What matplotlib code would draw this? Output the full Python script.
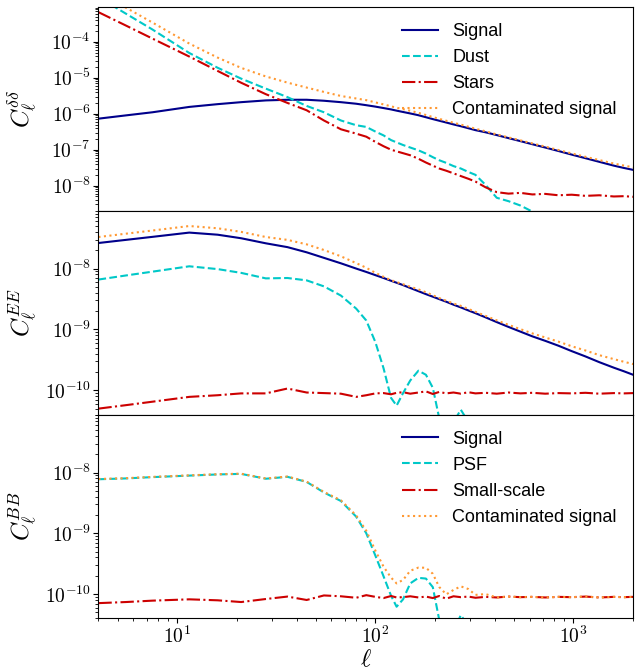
import matplotlib
matplotlib.use('Agg')
import matplotlib.pyplot as plt
from matplotlib.ticker import FuncFormatter, NullFormatter
import math

plt.rcParams['mathtext.fontset'] = 'cm'
plt.rcParams['font.family'] = ['Liberation Sans', 'DejaVu Sans']

# multipole grid
ell = [4, 5.5, 7.5, 11.5, 16, 21, 28, 36, 45, 55, 67, 80, 90, 100, 110, 120, 128,
       138, 150, 165, 180, 195, 210, 228, 248, 270, 295, 320, 360, 410, 470, 540,
       620, 720, 840, 980, 1150, 1350, 1600, 1800, 2000]

# ---- panel 1: delta-delta ----
signal_dd = [7.3e-7, 9.0e-7, 1.1e-6, 1.55e-6, 1.85e-6, 2.1e-6, 2.35e-6, 2.45e-6, 2.45e-6,
             2.3e-6, 2.1e-6, 1.9e-6, 1.73e-6, 1.58e-6, 1.44e-6, 1.32e-6, 1.22e-6, 1.12e-6,
             1.02e-6, 9.1e-7, 8.0e-7, 7.1e-7, 6.4e-7, 5.7e-7, 5.05e-7, 4.5e-7, 3.95e-7,
             3.5e-7, 3.05e-7, 2.55e-7, 2.1e-7, 1.73e-7, 1.42e-7, 1.15e-7, 9.2e-8, 7.3e-8,
             5.8e-8, 4.6e-8, 3.6e-8, 3.1e-8, 2.75e-8]
dust_dd = [1.75e-3, 6.1e-4, 2.2e-4, 4.9e-5, 1.9e-5, 9.5e-6, 5.0e-6, 2.9e-6, 1.65e-6,
           1.1e-6, 6.5e-7, 4.8e-7, 4.3e-7, 3.2e-7, 2.5e-7, 1.85e-7, 1.6e-7, 1.35e-7,
           1.15e-7, 9.6e-8, 7.8e-8, 6.2e-8, 5.1e-8, 4.3e-8, 3.5e-8, 3.0e-8, 2.4e-8,
           2.0e-8, 1.05e-8, 4.6e-9, 3.7e-9, 2.8e-9, 1.9e-9, 1.1e-9, 6e-10, 3.5e-10,
           2e-10, 1.2e-10, 7e-11, 5e-11, 4e-11]
stars_dd = [6.7e-4, 2.85e-4, 1.23e-4, 3.9e-5, 1.55e-5, 7.3e-6, 3.5e-6, 2.0e-6, 1.25e-6,
            6.5e-7, 3.7e-7, 2.8e-7, 2.3e-7, 1.65e-7, 1.25e-7, 1.0e-7, 9.0e-8, 8.0e-8,
            7.0e-8, 5.6e-8, 4.4e-8, 3.6e-8, 3.0e-8, 2.6e-8, 2.2e-8, 1.85e-8, 1.55e-8,
            1.3e-8, 9.0e-9, 6.6e-9, 6.0e-9, 6.3e-9, 5.7e-9, 5.9e-9, 5.4e-9, 5.6e-9,
            5.2e-9, 5.4e-9, 5.0e-9, 5.1e-9, 4.9e-9]
contam_dd = [2.42e-3, 8.96e-4, 3.44e-4, 8.96e-5, 3.64e-5, 1.89e-5, 1.09e-5, 7.35e-6,
             5.35e-6, 4.05e-6, 3.12e-6, 2.66e-6, 2.39e-6, 2.07e-6, 1.82e-6, 1.61e-6,
             1.47e-6, 1.34e-6, 1.21e-6, 1.06e-6, 9.22e-7, 8.08e-7, 7.21e-7, 6.39e-7,
             5.62e-7, 4.99e-7, 4.35e-7, 3.83e-7, 3.25e-7, 2.66e-7, 2.2e-7, 1.82e-7,
             1.5e-7, 1.22e-7, 9.8e-8, 7.9e-8, 6.34e-8, 5.15e-8, 4.11e-8, 3.61e-8, 3.24e-8]

# ---- panel 2: EE ----
signal_ee = [2.63e-8, 2.96e-8, 3.32e-8, 3.9e-8, 3.6e-8, 3.15e-8, 2.6e-8, 2.25e-8, 1.85e-8,
             1.5e-8, 1.22e-8, 1.0e-8, 8.8e-9, 7.8e-9, 7.0e-9, 6.3e-9, 5.85e-9, 5.35e-9,
             4.8e-9, 4.25e-9, 3.8e-9, 3.45e-9, 3.15e-9, 2.85e-9, 2.55e-9, 2.3e-9, 2.05e-9,
             1.85e-9, 1.58e-9, 1.32e-9, 1.1e-9, 9.2e-10, 7.7e-10, 6.5e-10, 5.4e-10,
             4.4e-10, 3.6e-10, 2.9e-10, 2.35e-10, 2.05e-10, 1.8e-10]
dust_ee = [6.6e-9, 7.7e-9, 8.9e-9, 1.09e-8, 9.8e-9, 8.5e-9, 6.9e-9, 7.0e-9, 6.4e-9,
           5.1e-9, 3.6e-9, 2.2e-9, 1.4e-9, 6.2e-10, 2.3e-10, 7.5e-11, 5.6e-11, 9.0e-11,
           1.45e-10, 2.1e-10, 1.8e-10, 1.1e-10, 3.5e-11, 1.8e-11, 3.0e-11, 4.8e-11,
           3.0e-11, 1.2e-11, 8e-12, 5e-12, 4e-12, 3e-12, 2.5e-12, 2e-12, 1.8e-12,
           1.5e-12, 1.3e-12, 1.1e-12, 1e-12, 1e-12, 1e-12]
stars_ee = [5.0e-11, 5.7e-11, 6.5e-11, 7.8e-11, 8.3e-11, 8.9e-11, 8.9e-11, 1.07e-10,
            9.2e-11, 9.0e-11, 8.8e-11, 7.8e-11, 8.3e-11, 8.9e-11, 9.0e-11, 8.6e-11,
            9.1e-11, 9.3e-11, 8.8e-11, 9.2e-11, 9.6e-11, 8.7e-11, 9.4e-11, 8.9e-11,
            9.2e-11, 8.8e-11, 9.3e-11, 8.9e-11, 9.1e-11, 8.8e-11, 9.2e-11, 8.9e-11,
            9.1e-11, 8.8e-11, 9.0e-11, 8.9e-11, 9.1e-11, 8.8e-11, 9.0e-11, 8.9e-11, 9.0e-11]
contam_ee = [3.30e-8, 3.74e-8, 4.22e-8, 5.0e-8, 4.59e-8, 4.01e-8, 3.30e-8, 2.96e-8,
             2.50e-8, 2.02e-8, 1.59e-8, 1.23e-8, 1.03e-8, 8.51e-9, 7.32e-9, 6.46e-9,
             6.0e-9, 5.53e-9, 5.03e-9, 4.55e-9, 4.08e-9, 3.65e-9, 3.28e-9, 2.96e-9,
             2.67e-9, 2.44e-9, 2.17e-9, 1.95e-9, 1.67e-9, 1.41e-9, 1.19e-9, 1.01e-9,
             8.61e-10, 7.38e-10, 6.3e-10, 5.29e-10, 4.51e-10, 3.78e-10, 3.25e-10,
             2.94e-10, 2.7e-10]

# ---- panel 3: BB ----
signal_bb = [0.0] * len(ell)
psf_bb = [7.75e-9, 8.0e-9, 8.4e-9, 8.9e-9, 9.3e-9, 9.5e-9, 7.9e-9, 8.5e-9, 7.0e-9,
          4.7e-9, 3.4e-9, 1.88e-9, 1.0e-9, 4.3e-10, 1.96e-10, 9.4e-11, 6.2e-11, 8.2e-11,
          1.5e-10, 1.85e-10, 1.8e-10, 1.3e-10, 3.8e-11, 1.5e-11, 2.5e-11, 4.5e-11,
          3.0e-11, 1.0e-11, 5e-12, 4e-12, 3e-12, 2.5e-12, 2e-12, 1.8e-12, 1.5e-12,
          1.3e-12, 1.1e-12, 1e-12, 1e-12, 1e-12, 1e-12]
small_bb = [7.1e-11, 7.4e-11, 7.8e-11, 8.2e-11, 7.9e-11, 7.4e-11, 8.3e-11, 9.1e-11,
            8.0e-11, 9.5e-11, 9.2e-11, 8.7e-11, 9.6e-11, 9.0e-11, 8.6e-11, 9.3e-11,
            8.8e-11, 8.9e-11, 9.2e-11, 8.8e-11, 9.1e-11, 8.6e-11, 9.3e-11, 8.4e-11,
            9.2e-11, 8.9e-11, 9.1e-11, 8.7e-11, 9.0e-11, 8.8e-11, 9.1e-11, 8.9e-11,
            9.0e-11, 8.8e-11, 9.0e-11, 8.9e-11, 9.1e-11, 8.8e-11, 9.0e-11, 8.9e-11, 9.0e-11]
contam_bb = [7.82e-9, 8.07e-9, 8.48e-9, 8.98e-9, 9.38e-9, 9.57e-9, 7.98e-9, 8.59e-9,
             7.08e-9, 4.8e-9, 3.49e-9, 1.97e-9, 1.1e-9, 5.2e-10, 2.82e-10, 1.87e-10,
             1.5e-10, 1.71e-10, 2.42e-10, 2.73e-10, 2.71e-10, 2.16e-10, 1.31e-10,
             9.9e-11, 1.17e-10, 1.34e-10, 1.21e-10, 9.7e-11, 1.0e-10, 8.8e-11, 9.1e-11,
             8.9e-11, 9.0e-11, 8.8e-11, 9.0e-11, 8.9e-11, 9.1e-11, 8.8e-11, 9.0e-11,
             8.9e-11, 9.0e-11]

labels_top = ['Signal', 'Dust', 'Stars', 'Contaminated signal']
labels_bottom = ['Signal', 'PSF', 'Small-scale', 'Contaminated signal']
ylabels = [r'$C_\ell^{\delta\delta}$', r'$C_\ell^{EE}$', r'$C_\ell^{BB}$']

c_sig = '#00008b'
c_dust = '#00c8c8'
c_star = '#cc0000'
c_cont = '#ff9933'
lw = 1.5


def decade_fmt(v, pos):
    if v <= 0:
        return ''
    e = math.log10(v)
    if abs(e - round(e)) > 1e-6:
        return ''
    return r'$10^{%d}$' % int(round(e))


fig, axes = plt.subplots(3, 1, sharex=True, figsize=(6.35, 6.7), dpi=100)
fig.subplots_adjust(left=0.155, right=0.997, top=0.9895, bottom=0.0772, hspace=0)

panels = [
    (signal_dd, dust_dd, stars_dd, contam_dd, labels_top, (2e-9, 9.3e-4)),
    (signal_ee, dust_ee, stars_ee, contam_ee, None, (4e-11, 8.9e-8)),
    (signal_bb, psf_bb, small_bb, contam_bb, labels_bottom, (4e-11, 9e-8)),
]

for ax, (s, d, st, c, labs, ylim), yl in zip(axes, panels, ylabels):
    labs = labs if labs else [None] * 4
    ax.plot(ell, s, color=c_sig, lw=lw, ls='-', label=labs[0])
    ax.plot(ell, d, color=c_dust, lw=lw, ls='--', label=labs[1])
    ax.plot(ell, st, color=c_star, lw=lw, ls='-.', label=labs[2])
    ax.plot(ell, c, color=c_cont, lw=lw, ls=':', label=labs[3])
    ax.set_xscale('log')
    ax.set_yscale('log')
    ax.set_ylim(*ylim)
    ax.set_ylabel(yl, fontsize=18, labelpad=4)
    ax.yaxis.set_major_formatter(FuncFormatter(decade_fmt))
    ax.yaxis.set_minor_formatter(NullFormatter())
    ax.tick_params(labelsize=14, pad=2)
    if labs[0] is not None:
        ax.legend(loc='upper right', frameon=False, fontsize=13)

axes[-1].set_xlim(4, 2000)
axes[-1].xaxis.set_major_formatter(FuncFormatter(decade_fmt))
axes[-1].xaxis.set_minor_formatter(NullFormatter())
axes[-1].set_xlabel(r'$\ell$', fontsize=18, labelpad=0)
fig.align_ylabels(axes)

fig.savefig('out.png', dpi=100)
